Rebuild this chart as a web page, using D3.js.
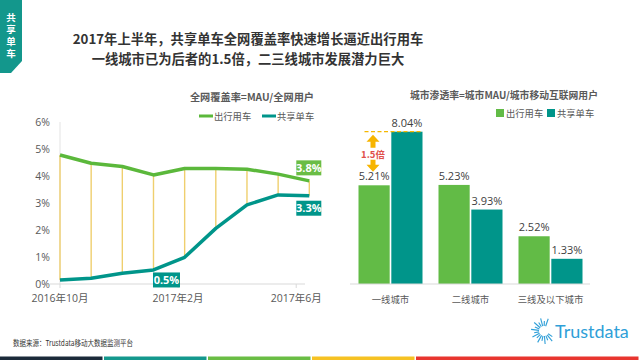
<!DOCTYPE html>
<html><head><meta charset="utf-8">
<script src="https://cdn.jsdelivr.net/npm/d3@7"></script>
<style>body{margin:0;background:#fff}svg{display:block;font-family:"Open Sans","Noto Sans CJK SC",sans-serif}</style>
</head><body><svg id="c" width="640" height="360"></svg>
<script>
// ---- data ----
const lineIndex = [0,1,2,3,4,5,6,7,8];
const travelCover = [4.78,4.47,4.35,4.04,4.28,4.28,4.25,4.07,3.82];
const bikeCover   = [0.15,0.21,0.40,0.52,0.99,2.06,2.93,3.30,3.27];
const lineTickPos = [0,3.79,7.58];
const lineTickLabels = ["2016年10月","2017年2月","2017年6月"];
const yTicksLeft = [0,1,2,3,4,5,6];
const seriesNames = ["出行用车","共享单车"];
const cities = ["一线城市","二线城市","三线及以下城市"];
const cityTravel = [5.21,5.23,2.52];
const cityBike = [8.04,3.93,1.33];
const bottomBarColors = ["#1b2a3a","#14988d","#6abd45","#f6c223","#e8352f"];

const GREEN="#5bb83b", TEAL="#00958a", GRAY="#595959";
const svg = d3.select("#c");

// sidebar
svg.append("path").attr("d","M0,0H22V61L11,73H0Z").attr("fill","#13978c");
svg.append("text").attr("x",11).attr("y",13).attr("font-size",9.5).attr("font-weight","bold").attr("fill","#fff")
  .attr("font-family","Noto Sans CJK SC").style("writing-mode","vertical-rl").attr("letter-spacing",2.5).text("共享单车");

// title
const title=["2017年上半年，共享单车全网覆盖率快速增长逼近出行用车","一线城市已为后者的1.5倍，二三线城市发展潜力巨大"];
title.forEach((t,i)=>svg.append("text").attr("x",248).attr("y",44+i*20).attr("text-anchor","middle")
  .attr("font-size",13.3).attr("font-weight","bold").attr("fill","#333").attr("font-family","Noto Sans CJK SC").text(t));

// ---- left line chart ----
const xL = d3.scaleLinear().domain([0,8]).range([60,309.3]);
const yL = d3.scaleLinear().domain([0,6]).range([284,122]);

svg.append("line").attr("x1",60).attr("x2",60).attr("y1",122).attr("y2",284).attr("stroke","#e3e3e3");
svg.append("line").attr("x1",50).attr("x2",305).attr("y1",yL(0)).attr("y2",yL(0)).attr("stroke","#d9d9d9");
svg.append("g").selectAll("text").data(yTicksLeft).join("text")
  .attr("x",50).attr("y",d=>yL(d)+4).attr("text-anchor","end").attr("font-size",10.5).attr("fill",GRAY).text(d=>d+"%");
svg.append("g").selectAll("line").data(lineTickPos).join("line")
  .attr("x1",d=>xL(d)).attr("x2",d=>xL(d)).attr("y1",284).attr("y2",288).attr("stroke","#d9d9d9");
svg.append("g").selectAll("text").data(lineTickPos).join("text")
  .attr("x",d=>xL(d)).attr("y",302).attr("text-anchor","middle").attr("font-size",10.5).attr("fill",GRAY)
  .text((d,i)=>lineTickLabels[i]);

// high-low lines
svg.append("g").selectAll("line").data(lineIndex).join("line")
  .attr("x1",d=>xL(d)).attr("x2",d=>xL(d)).attr("y1",d=>yL(travelCover[d])).attr("y2",d=>yL(bikeCover[d]))
  .attr("stroke","#efcf6e").attr("stroke-width",1.4);

const ln = d3.line().x((d,i)=>xL(lineIndex[i])).y(d=>yL(d));
svg.append("path").attr("d",ln(travelCover)).attr("fill","none").attr("stroke",GREEN).attr("stroke-width",3.5).attr("stroke-linejoin","round");
svg.append("path").attr("d",ln(bikeCover)).attr("fill","none").attr("stroke",TEAL).attr("stroke-width",3.5).attr("stroke-linejoin","round");

function tag(x,yc,w,txt,col){
  svg.append("rect").attr("x",x-w/2).attr("y",yc-7.5).attr("width",w).attr("height",15).attr("fill",col);
  svg.append("text").attr("x",x).attr("y",yc+4).attr("text-anchor","middle").attr("font-size",11)
    .attr("font-weight","bold").attr("fill","#fff").text(txt);
}
tag(xL(8)-0.5,yL(travelCover[8])-13,25,travelCover[8].toFixed(1)+"%","#6abd45");
tag(xL(8)-0.5,yL(bikeCover[8])+12.5,25,bikeCover[8].toFixed(1)+"%",TEAL);
tag(xL(3)+13,yL(bikeCover[3])+10,27,bikeCover[3].toFixed(1)+"%",TEAL);

svg.append("text").attr("x",252).attr("y",101).attr("text-anchor","middle").attr("font-size",10.2)
  .attr("font-weight","bold").attr("fill",GRAY).attr("font-family","Noto Sans CJK SC").text("全网覆盖率=MAU/全网用户");
[[199,GREEN],[262,TEAL]].forEach((p,i)=>{
  svg.append("line").attr("x1",p[0]).attr("x2",p[0]+14).attr("y1",116).attr("y2",116).attr("stroke",p[1]).attr("stroke-width",3);
  svg.append("text").attr("x",p[0]+15).attr("y",119.5).attr("font-size",9.3).attr("fill",GRAY)
    .attr("font-family","Noto Sans CJK SC").text(seriesNames[i]);
});

// ---- right bar chart ----
const x0 = d3.scaleBand().domain(cities).range([350.5,590.5]).paddingInner(0.2).paddingOuter(0.1);
const x1 = d3.scaleBand().domain(seriesNames).range([0,x0.bandwidth()]).paddingInner(0.05);
const yR = d3.scaleLinear().domain([0,9]).range([284,113.5]);
const barData = cities.map((c,i)=>[{c,s:seriesNames[0],v:cityTravel[i]},{c,s:seriesNames[1],v:cityBike[i]}]).flat();
const col = s=>s===seriesNames[0]?"#62bb46":TEAL;

svg.append("g").selectAll("rect").data(barData).join("rect")
  .attr("x",d=>x0(d.c)+x1(d.s)).attr("width",x1.bandwidth()).attr("y",d=>yR(d.v)).attr("height",d=>yR(0)-yR(d.v)).attr("fill",d=>col(d.s));
svg.append("line").attr("x1",350).attr("x2",590).attr("y1",284).attr("y2",284).attr("stroke","#d9d9d9");
svg.append("g").selectAll("text").data(barData).join("text")
  .attr("x",d=>x0(d.c)+x1(d.s)+x1.bandwidth()/2).attr("y",d=>yR(d.v)-5).attr("text-anchor","middle")
  .attr("font-size",11).attr("fill","#404040").text(d=>d.v.toFixed(2)+"%");
svg.append("g").selectAll("text").data(cities).join("text")
  .attr("x",d=>x0(d)+x0.bandwidth()/2).attr("y",303).attr("text-anchor","middle").attr("font-size",9.4).attr("fill",GRAY)
  .attr("font-family","Noto Sans CJK SC").text(d=>d);

svg.append("text").attr("x",504).attr("y",99).attr("text-anchor","middle").attr("font-size",9.8)
  .attr("font-weight","bold").attr("fill",GRAY).attr("font-family","Noto Sans CJK SC").text("城市渗透率=城市MAU/城市移动互联网用户");
[[496,"#62bb46"],[547,TEAL]].forEach((p,i)=>{
  svg.append("rect").attr("x",p[0]).attr("y",109).attr("width",8).attr("height",8).attr("fill",p[1]);
  svg.append("text").attr("x",p[0]+10).attr("y",117).attr("font-size",9.3).attr("fill",GRAY)
    .attr("font-family","Noto Sans CJK SC").text(seriesNames[i]);
});

// annotation 1.5倍
const topY = yR(cityBike[0]);
const ax = x0(cities[0])+14.5;
svg.append("line").attr("x1",x0(cities[0])+6).attr("x2",x0(cities[0])+x0.bandwidth()).attr("y1",topY).attr("y2",topY)
  .attr("stroke","#f5b800").attr("stroke-width",1.3).attr("stroke-dasharray","4,2.5");
const OR="#f7b500";
svg.append("path").attr("d",`M${ax},${topY+3}L${ax+6.5},${topY+10}H${ax+2.5}V${topY+16}H${ax-2.5}V${topY+10}H${ax-6.5}Z`).attr("fill",OR);
svg.append("path").attr("d",`M${ax},${topY+40}L${ax+6.5},${topY+33}H${ax+2.5}V${topY+28}H${ax-2.5}V${topY+33}H${ax-6.5}Z`).attr("fill",OR);
svg.append("text").attr("x",ax).attr("y",topY+26.5).attr("text-anchor","middle").attr("font-size",9.5)
  .attr("font-weight","bold").attr("fill","#e0504a").attr("font-family","Noto Sans CJK SC").text("1.5倍");

// footer
svg.append("text").attr("x",13).attr("y",346).attr("font-size",8).attr("fill","#333")
  .attr("textLength",120).attr("lengthAdjust","spacingAndGlyphs")
  .attr("font-family","Noto Sans CJK SC").text("数据来源：Trustdata移动大数据监测平台");
const segW=[104,104,104,104,224]; let sx=0;
bottomBarColors.forEach((c,i)=>{svg.append("rect").attr("x",sx).attr("y",356.5).attr("width",segW[i]-1.5).attr("height",3.5).attr("fill",c);sx+=segW[i];});

// logo
const lg=svg.append("g").attr("stroke","#2f9fd8").attr("stroke-width",1.1);
for(let a=0;a<360;a+=17){
  const r=a*Math.PI/180; if(a>300||a<30) continue;
  const c=[544,331];
  lg.append("line").attr("x1",c[0]+Math.cos(r)*5).attr("y1",c[1]+Math.sin(r)*5)
    .attr("x2",c[0]+Math.cos(r)*(a%34?13:10)).attr("y2",c[1]+Math.sin(r)*(a%34?13:10));
}
svg.append("text").attr("x",555).attr("y",338).attr("font-size",18).attr("fill","#2f9fd8").attr("font-family","Lato").text("Trustdata");
</script></body></html>
